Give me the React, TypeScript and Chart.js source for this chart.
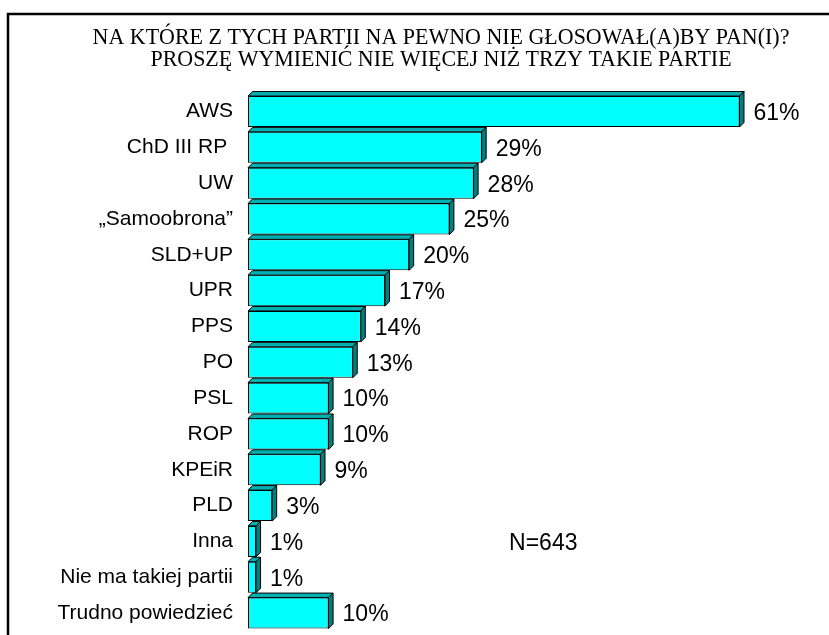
import React, { useEffect, useRef } from "react";
import { Chart, registerables } from "chart.js";

Chart.register(...registerables);

const titleLines = [
  "NA KTÓRE Z TYCH PARTII NA PEWNO NIE GŁOSOWAŁ(A)BY PAN(I)?",
  "PROSZĘ WYMIENIĆ NIE WIĘCEJ NIŻ TRZY TAKIE PARTIE",
];

const categories = [
  "AWS",
  "ChD III RP ",
  "UW",
  "„Samoobrona”",
  "SLD+UP",
  "UPR",
  "PPS",
  "PO",
  "PSL",
  "ROP",
  "KPEiR",
  "PLD",
  "Inna",
  "Nie ma takiej partii",
  "Trudno powiedzieć",
];

const values = [61, 29, 28, 25, 20, 17, 14, 13, 10, 10, 9, 3, 1, 1, 10];

const noteText = "N=643";

const SANS = "'Liberation Sans', Arial, sans-serif";
const SERIF = "'Liberation Serif', 'Times New Roman', serif";

const decorPlugin = {
  id: "decor",
  beforeDraw(chart: any) {
    const ctx = chart.ctx;
    ctx.save();
    ctx.fillStyle = "#ffffff";
    ctx.fillRect(0, 0, chart.width, chart.height);
    // frame (left + top)
    ctx.strokeStyle = "#000000";
    ctx.lineWidth = 2.5;
    ctx.beginPath();
    ctx.moveTo(8, chart.height + 5);
    ctx.lineTo(8, 14);
    ctx.lineTo(chart.width + 5, 14);
    ctx.stroke();
    // title (slightly condensed serif)
    ctx.fillStyle = "#000000";
    ctx.font = `23px ${SERIF}`;
    ctx.textAlign = "center";
    ctx.textBaseline = "alphabetic";
    const sx = 0.955;
    ctx.save();
    ctx.scale(sx, 1);
    ctx.fillText(titleLines[0], 441 / sx, 44);
    ctx.fillText(titleLines[1], 441 / sx, 66);
    ctx.restore();
    ctx.restore();
  },
  afterDatasetsDraw(chart: any) {
    const ctx = chart.ctx;
    const meta = chart.getDatasetMeta(0);
    const d = 4.5;
    ctx.save();
    ctx.lineWidth = 1;
    ctx.strokeStyle = "#000000";
    meta.data.forEach((el: any, i: number) => {
      const { x, y, base, height } = el.getProps(["x", "y", "base", "height"], true);
      const left = Math.min(base, x);
      const right = Math.max(base, x);
      const top = y - height / 2;
      const bottom = y + height / 2;
      // top face
      ctx.beginPath();
      ctx.moveTo(left, top);
      ctx.lineTo(left + d, top - d);
      ctx.lineTo(right + d, top - d);
      ctx.lineTo(right, top);
      ctx.closePath();
      ctx.fillStyle = "#00B0B0";
      ctx.fill();
      ctx.stroke();
      // side face
      ctx.beginPath();
      ctx.moveTo(right, top);
      ctx.lineTo(right + d, top - d);
      ctx.lineTo(right + d, bottom - d);
      ctx.lineTo(right, bottom);
      ctx.closePath();
      ctx.fillStyle = "#008080";
      ctx.fill();
      ctx.stroke();
      // value label
      ctx.fillStyle = "#000000";
      ctx.font = `23px ${SANS}`;
      ctx.textAlign = "left";
      ctx.textBaseline = "middle";
      ctx.fillText(values[i] + "%", right + 14, y + 2);
    });
    // note
    const xs = chart.scales.x;
    const ys = chart.scales.y;
    ctx.font = `23px ${SANS}`;
    ctx.textAlign = "left";
    ctx.textBaseline = "middle";
    ctx.fillText(noteText, xs.getPixelForValue(32.4), ys.getPixelForValue(12) + 2);
    ctx.restore();
  },
};

export default function App() {
  const ref = useRef<HTMLCanvasElement | null>(null);
  useEffect(() => {
    if (!ref.current) return;
    const chart = new Chart(ref.current, {
      type: "bar",
      data: {
        labels: categories,
        datasets: [
          {
            data: values,
            backgroundColor: "#00FFFF",
            borderColor: "#000000",
            borderWidth: 1,
            borderSkipped: false,
            categoryPercentage: 1,
            barPercentage: 0.865,
          },
        ],
      },
      options: {
        indexAxis: "y",
        animation: false,
        responsive: true,
        maintainAspectRatio: false,
        layout: { padding: { top: 93.6, bottom: 4, left: 0, right: 17 } },
        plugins: {
          legend: { display: false },
          title: { display: false },
          tooltip: { enabled: false },
        },
        scales: {
          x: {
            display: false,
            min: 0,
            max: 70,
          },
          y: {
            afterFit: (s: any) => {
              s.width = 248;
              s.paddingTop = 0;
              s.paddingBottom = 0;
            },
            grid: { display: false, drawTicks: false },
            border: { display: false },
            ticks: {
              color: "#000000",
              padding: 15,
              autoSkip: false,
              font: { family: SANS, size: 21 },
            },
          },
        },
      },
      plugins: [decorPlugin],
    });
    return () => chart.destroy();
  }, []);
  return (
    <div style={{ position: "fixed", left: 0, top: 0, width: 829, height: 635 }}>
      <canvas ref={ref} style={{ display: "block" }} />
    </div>
  );
}
